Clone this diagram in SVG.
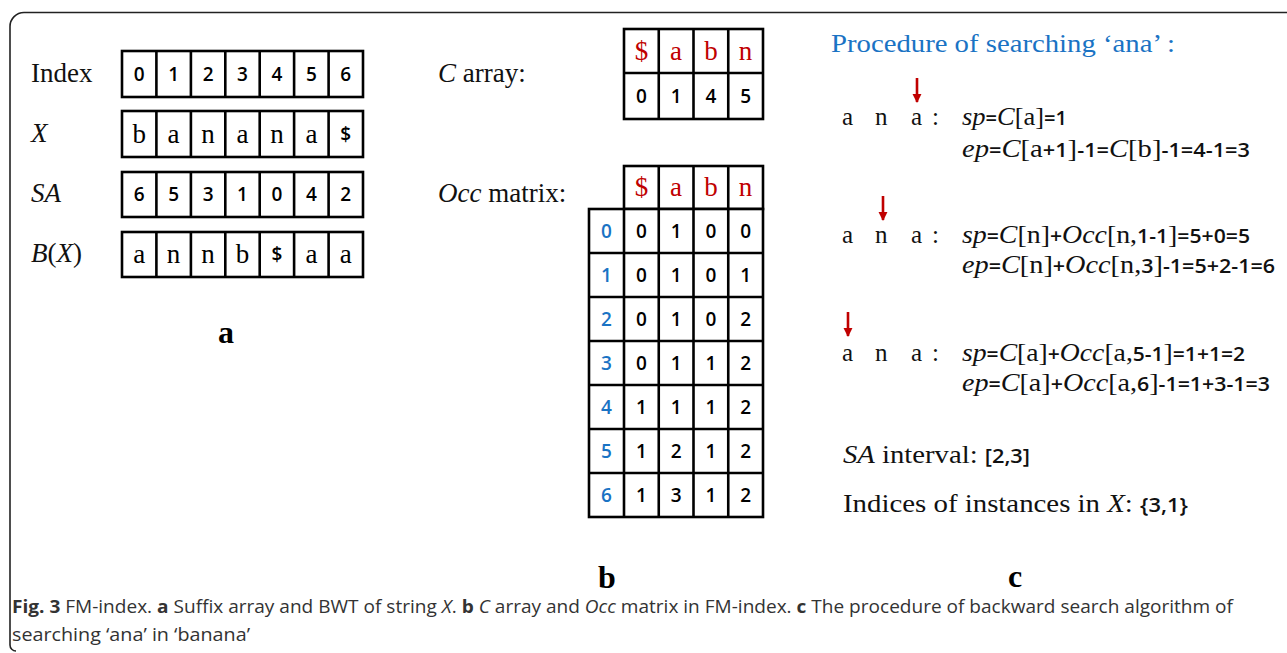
<svg xmlns="http://www.w3.org/2000/svg" width="1287" height="653" viewBox="0 0 1287 653">
<style>
.frame{fill:none;stroke:#222;stroke-width:1.6}
.grid{fill:#fff;stroke:#000;stroke-width:2.6}
.ln{stroke:#000;stroke-width:2.6}
.lbl{font-family:"Liberation Serif",serif;font-size:27px;fill:#111}
.it{font-style:italic}
.cd{font-family:"Open Sans","Liberation Sans",sans-serif;font-size:19px;font-weight:600;fill:#000;text-anchor:middle}
.cs{font-family:"Liberation Serif",serif;font-size:27px;fill:#000;text-anchor:middle}
.red{fill:#c00000}
.bd{font-family:"Open Sans","Liberation Sans",sans-serif;font-size:19px;font-weight:600;text-anchor:middle;fill:#1a73c4}
.f{font-family:"Liberation Serif",serif;font-size:25px;fill:#111}
.s{font-family:"Open Sans","Liberation Sans",sans-serif;font-size:19px;font-weight:600;fill:#111}
.big{font-family:"Liberation Serif",serif;font-size:32px;font-weight:bold;fill:#000;text-anchor:middle}
.cap{font-family:"Open Sans","Liberation Sans",sans-serif;font-size:18px;fill:#333}
.arr{stroke:#c00000;stroke-width:2.6;fill:none}
</style>
<defs>
<marker id="ah" viewBox="0 0 10 10" refX="9" refY="5" markerWidth="3.6" markerHeight="3.6" orient="auto" markerUnits="strokeWidth">
<path d="M0,0 L10,5 L0,10 z" fill="#c00000"/>
</marker>
</defs>
<path class="frame" d="M1287,12.5 H24 A14,14 0 0 0 10,26.5 V645 A6,6 0 0 0 16,651"/>

<g id="panel-a">
<text class="lbl" x="31" y="82">Index</text>
<text class="lbl it" x="31" y="142">X</text>
<text class="lbl it" x="31" y="202">SA</text>
<text class="lbl" x="31" y="262"><tspan class="it">B</tspan>(<tspan class="it">X</tspan>)</text>
<g id="row-index">
<rect class="grid" x="122" y="51" width="241" height="46"/>
<path class="ln" d="M156.4,51V97M190.9,51V97M225.3,51V97M259.7,51V97M294.1,51V97M328.6,51V97"/>
<text class="cd" x="139.2" y="81">0</text><text class="cd" x="173.6" y="81">1</text><text class="cd" x="208.1" y="81">2</text><text class="cd" x="242.5" y="81">3</text><text class="cd" x="276.9" y="81">4</text><text class="cd" x="311.4" y="81">5</text><text class="cd" x="345.8" y="81">6</text>
</g>
<g id="row-x">
<rect class="grid" x="122" y="111" width="241" height="46"/>
<path class="ln" d="M156.4,111V157M190.9,111V157M225.3,111V157M259.7,111V157M294.1,111V157M328.6,111V157"/>
<text class="cs" x="139.2" y="143">b</text><text class="cs" x="173.6" y="143">a</text><text class="cs" x="208.1" y="143">n</text><text class="cs" x="242.5" y="143">a</text><text class="cs" x="276.9" y="143">n</text><text class="cs" x="311.4" y="143">a</text><text class="cd" x="345.8" y="141">$</text>
</g>
<g id="row-sa">
<rect class="grid" x="122" y="172" width="241" height="45"/>
<path class="ln" d="M156.4,172V217M190.9,172V217M225.3,172V217M259.7,172V217M294.1,172V217M328.6,172V217"/>
<text class="cd" x="139.2" y="201">6</text><text class="cd" x="173.6" y="201">5</text><text class="cd" x="208.1" y="201">3</text><text class="cd" x="242.5" y="201">1</text><text class="cd" x="276.9" y="201">0</text><text class="cd" x="311.4" y="201">4</text><text class="cd" x="345.8" y="201">2</text>
</g>
<g id="row-bx">
<rect class="grid" x="122" y="232" width="241" height="45"/>
<path class="ln" d="M156.4,232V277M190.9,232V277M225.3,232V277M259.7,232V277M294.1,232V277M328.6,232V277"/>
<text class="cs" x="139.2" y="263">a</text><text class="cs" x="173.6" y="263">n</text><text class="cs" x="208.1" y="263">n</text><text class="cs" x="242.5" y="263">b</text><text class="cd" x="276.9" y="261">$</text><text class="cs" x="311.4" y="263">a</text><text class="cs" x="345.8" y="263">a</text>
</g>
<text class="big" x="226" y="343">a</text>
</g>

<g id="panel-b">
<text class="lbl" x="438" y="82"><tspan class="it">C</tspan> array:</text>
<text class="lbl" x="438" y="202"><tspan class="it">Occ</tspan> matrix:</text>
<g id="c-array">
<rect class="grid" x="624" y="29" width="139" height="90"/>
<path class="ln" d="M624,73H763M658.75,29V119M693.5,29V119M728.25,29V119"/>
<text class="cs red" x="641.4" y="60" font-size="24">$</text><text class="cs red" x="676.1" y="60">a</text><text class="cs red" x="710.9" y="60">b</text><text class="cs red" x="745.6" y="60">n</text>
<text class="cd" x="641.4" y="103">0</text><text class="cd" x="676.1" y="103">1</text><text class="cd" x="710.9" y="103">4</text><text class="cd" x="745.6" y="103">5</text>
</g>
<g id="occ-matrix">
<rect class="grid" x="624" y="166" width="139" height="43"/>
<rect class="grid" x="589" y="209" width="174" height="308"/>
<path class="ln" d="M658.75,166V517M693.5,166V517M728.25,166V517M624,209V517M589,253H763M589,297H763M589,341H763M589,385H763M589,429H763M589,473H763"/>
<text class="cs red" x="641.4" y="196" font-size="24">$</text><text class="cs red" x="676.1" y="196">a</text><text class="cs red" x="710.9" y="196">b</text><text class="cs red" x="745.6" y="196">n</text>
<text class="bd" x="606.5" y="238">0</text><text class="cd" x="641.4" y="238">0</text><text class="cd" x="676.1" y="238">1</text><text class="cd" x="710.9" y="238">0</text><text class="cd" x="745.6" y="238">0</text>
<text class="bd" x="606.5" y="282">1</text><text class="cd" x="641.4" y="282">0</text><text class="cd" x="676.1" y="282">1</text><text class="cd" x="710.9" y="282">0</text><text class="cd" x="745.6" y="282">1</text>
<text class="bd" x="606.5" y="326">2</text><text class="cd" x="641.4" y="326">0</text><text class="cd" x="676.1" y="326">1</text><text class="cd" x="710.9" y="326">0</text><text class="cd" x="745.6" y="326">2</text>
<text class="bd" x="606.5" y="370">3</text><text class="cd" x="641.4" y="370">0</text><text class="cd" x="676.1" y="370">1</text><text class="cd" x="710.9" y="370">1</text><text class="cd" x="745.6" y="370">2</text>
<text class="bd" x="606.5" y="414">4</text><text class="cd" x="641.4" y="414">1</text><text class="cd" x="676.1" y="414">1</text><text class="cd" x="710.9" y="414">1</text><text class="cd" x="745.6" y="414">2</text>
<text class="bd" x="606.5" y="458">5</text><text class="cd" x="641.4" y="458">1</text><text class="cd" x="676.1" y="458">2</text><text class="cd" x="710.9" y="458">1</text><text class="cd" x="745.6" y="458">2</text>
<text class="bd" x="606.5" y="502">6</text><text class="cd" x="641.4" y="502">1</text><text class="cd" x="676.1" y="502">3</text><text class="cd" x="710.9" y="502">1</text><text class="cd" x="745.6" y="502">2</text>
</g>
<text class="big" x="607" y="588">b</text>
</g>

<g id="panel-c">
<text class="f" x="831" y="52" font-size="26" fill="#1a73c4" style="fill:#1a73c4" textLength="344" lengthAdjust="spacingAndGlyphs">Procedure of searching ‘ana’ :</text>
<g id="step1">
<text class="f" y="125"><tspan x="842">a</tspan><tspan x="875">n</tspan><tspan x="911">a</tspan><tspan x="932">:</tspan></text>
<text class="f" x="962" y="125" textLength="105" lengthAdjust="spacingAndGlyphs"><tspan class="it">sp</tspan><tspan class="s">=</tspan><tspan class="it">C</tspan>[a]<tspan class="s">=1</tspan></text>
<text class="f" x="962" y="157" textLength="288" lengthAdjust="spacingAndGlyphs"><tspan class="it">ep</tspan><tspan class="s">=</tspan><tspan class="it">C</tspan>[a<tspan class="s">+1</tspan>]<tspan class="s">-1=</tspan><tspan class="it">C</tspan>[b]<tspan class="s">-1=4-1=3</tspan></text>
</g>
<g id="step2">
<text class="f" y="243"><tspan x="842">a</tspan><tspan x="875">n</tspan><tspan x="911">a</tspan><tspan x="932">:</tspan></text>
<text class="f" x="962" y="243" textLength="288" lengthAdjust="spacingAndGlyphs"><tspan class="it">sp</tspan><tspan class="s">=</tspan><tspan class="it">C</tspan>[n]<tspan class="s">+</tspan><tspan class="it">Occ</tspan>[n,<tspan class="s">1-1</tspan>]<tspan class="s">=5+0=5</tspan></text>
<text class="f" x="962" y="273" textLength="313" lengthAdjust="spacingAndGlyphs"><tspan class="it">ep</tspan><tspan class="s">=</tspan><tspan class="it">C</tspan>[n]<tspan class="s">+</tspan><tspan class="it">Occ</tspan>[n,<tspan class="s">3</tspan>]<tspan class="s">-1=5+2-1=6</tspan></text>
</g>
<g id="step3">
<text class="f" y="361"><tspan x="842">a</tspan><tspan x="875">n</tspan><tspan x="911">a</tspan><tspan x="932">:</tspan></text>
<text class="f" x="962" y="361" textLength="283" lengthAdjust="spacingAndGlyphs"><tspan class="it">sp</tspan><tspan class="s">=</tspan><tspan class="it">C</tspan>[a]<tspan class="s">+</tspan><tspan class="it">Occ</tspan>[a,<tspan class="s">5-1</tspan>]<tspan class="s">=1+1=2</tspan></text>
<text class="f" x="962" y="391" textLength="308" lengthAdjust="spacingAndGlyphs"><tspan class="it">ep</tspan><tspan class="s">=</tspan><tspan class="it">C</tspan>[a]<tspan class="s">+</tspan><tspan class="it">Occ</tspan>[a,<tspan class="s">6</tspan>]<tspan class="s">-1=1+3-1=3</tspan></text>
</g>
<text class="f" x="843" y="463" font-size="26" textLength="187" lengthAdjust="spacingAndGlyphs"><tspan class="it">SA</tspan> interval: <tspan class="s">[2,3]</tspan></text>
<text class="f" x="843" y="512" font-size="26" textLength="345" lengthAdjust="spacingAndGlyphs">Indices of instances in <tspan class="it">X</tspan>: <tspan class="s">{3,1}</tspan></text>
<text class="big" x="1015" y="587">c</text>
</g>

<g id="connectors">
<path class="arr" marker-end="url(#ah)" d="M917,78V102"/>
<path class="arr" marker-end="url(#ah)" d="M883,196V220"/>
<path class="arr" marker-end="url(#ah)" d="M848,312V336"/>
</g>

<g id="caption">
<text class="cap" x="12" y="613" textLength="1221" lengthAdjust="spacingAndGlyphs"><tspan font-weight="bold">Fig. 3</tspan> FM-index. <tspan font-weight="bold">a</tspan> Suffix array and BWT of string <tspan font-style="italic">X</tspan>. <tspan font-weight="bold">b</tspan> <tspan font-style="italic">C</tspan> array and <tspan font-style="italic">Occ</tspan> matrix in FM-index. <tspan font-weight="bold">c</tspan> The procedure of backward search algorithm of</text>
<text class="cap" x="12" y="641" textLength="238" lengthAdjust="spacingAndGlyphs">searching ‘ana’ in ‘banana’</text>
</g>
</svg>
